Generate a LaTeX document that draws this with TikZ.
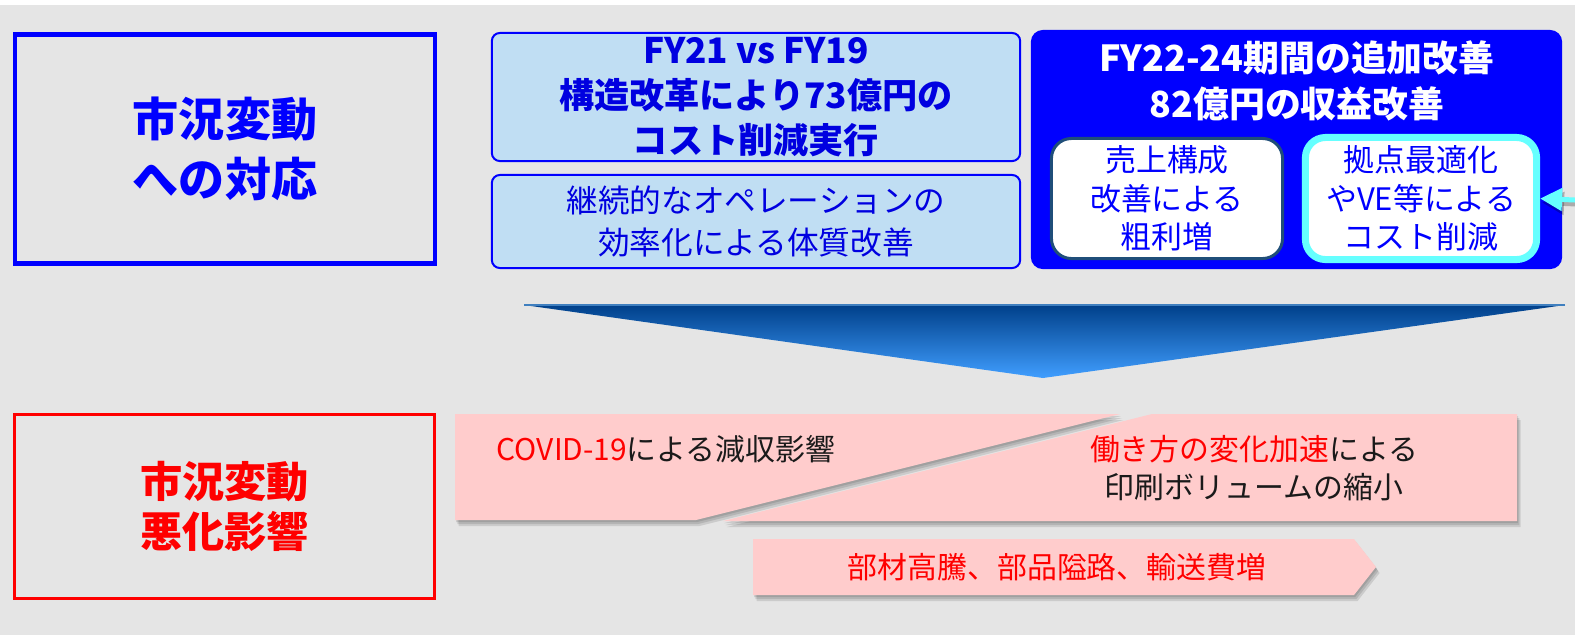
\documentclass[tikz,border=0pt]{standalone}
\usepackage{fontspec}
\setmainfont{Noto Sans CJK JP}
\usetikzlibrary{arrows.meta}
\definecolor{bgray}{HTML}{E5E5E5}
\definecolor{pblue}{HTML}{0000FF}
\definecolor{tblue}{HTML}{0000E0}
\definecolor{lblue}{HTML}{C0DEF3}
\definecolor{pred}{HTML}{FF0000}
\definecolor{pink}{HTML}{FFCCCC}
\definecolor{cyanb}{HTML}{66FFFF}
\definecolor{tealb}{HTML}{1F4E79}
\definecolor{chtop}{HTML}{00408A}
\definecolor{chmid}{HTML}{0066D9}
\definecolor{chbot}{HTML}{409EFF}
\definecolor{chline}{HTML}{3F7FBF}
\definecolor{dtext}{HTML}{1A1A1A}
\newcommand{\myfs}[2]{\fontsize{#1}{#2}\selectfont}
\begin{document}
\begin{tikzpicture}[x=0.01cm,y=-0.01cm,
  framebox/.style={draw, rectangle, inner sep=0pt, align=center},
  softbox/.style={draw=pblue, line width=0.02cm, fill=lblue, rounded corners=0.08cm, rectangle, inner sep=0pt, align=center, minimum width=5.28cm},
  whitebox/.style={fill=white, rounded corners=0.2cm, rectangle, inner sep=0pt, align=center, minimum width=2.31cm, text=pblue, font=\myfs{8.8pt}{11pt}},
  shadowc/.style={fill=black, opacity=0.11},
  pinktext/.style={align=center, inner sep=0pt, text=dtext, font=\myfs{8.5pt}{10.8pt}}
]
\useasboundingbox (0,0) rectangle (1575,635);
\fill[white] (0,0) rectangle (1575,635);
\fill[bgray] (0,5) rectangle (1575,635);

% left frames
\node[framebox, draw=pblue, line width=0.045cm, minimum width=4.2cm, minimum height=2.29cm,
  text=pblue, font=\myfs{13.1pt}{17.1pt}\bfseries] (resp) at (225,149) {市況変動\\への対応};
\node[framebox, draw=pred, line width=0.035cm, minimum width=4.196cm, minimum height=1.836cm,
  text=pred, font=\myfs{12pt}{14.2pt}\bfseries] (worse) at (224.5,506.5) {市況変動\\悪化影響};

% light blue boxes
\node[softbox, minimum height=1.28cm, text=tblue, font=\myfs{10pt}{12.8pt}\bfseries] (fy21) at (756,97)
  {FY21 vs FY19\\構造改革により73億円の\\コスト削減実行};
\node[softbox, minimum height=0.93cm, text=tblue, font=\myfs{9pt}{11.7pt}] (ops) at (756,221.5)
  {継続的なオペレーションの\\効率化による体質改善};

% big blue box
\node[fill=pblue, rounded corners=0.12cm, rectangle, inner sep=0pt, minimum width=5.31cm, minimum height=2.39cm] (fy22) at (1296.5,149.5) {};
\node[align=center, inner sep=0pt, text=white, font=\myfs{10.2pt}{12.9pt}\bfseries] (fy22t) at (1297,81)
  {FY22-24期間の追加改善\\82億円の収益改善};
\node[whitebox, draw=tealb, line width=0.03cm, minimum height=1.2cm] (sales) at (1167,198.5)
  {売上構成\\改善による\\粗利増};
\node[whitebox, draw=cyanb, line width=0.07cm, minimum height=1.22cm] (cost) at (1421,198.5)
  {拠点最適化\\やVE等による\\コスト削減};
\coordinate (arrs) at (1575,200);
\draw[black, opacity=0.25, line width=0.05cm, -{Triangle[length=0.22cm,width=0.22cm]}] ([xshift=0.02cm,yshift=-0.04cm]arrs) -- ([xshift=0.02cm,yshift=-0.04cm]cost.east);
\draw[cyanb, line width=0.05cm, -{Triangle[length=0.22cm,width=0.22cm]}] (arrs) -- (cost.east);

% chevron
\shade[top color=chtop, middle color=chmid, bottom color=chbot] (524,305) -- (1565,305) -- (1043,378) -- cycle;
\draw[chline, line width=0.012cm] (524,305) -- (1565,305);

% pink shape B (behind)
\foreach \o in {2,4,6} {\fill[shadowc, shift={(0.6*\o,\o)}] (723,521) -- (1152,414) -- (1517,414) -- (1517,521) -- cycle;}
\fill[pink] (723,521) -- (1152,414) -- (1517,414) -- (1517,521) -- cycle;
% pink shape A
\foreach \o in {2,4,6} {\fill[shadowc, shift={(0.6*\o,\o)}] (455,414) -- (1120,414) -- (696,520) -- (455,520) -- cycle;}
\fill[pink] (455,414) -- (1120,414) -- (696,520) -- (455,520) -- cycle;
% pink arrow C
\foreach \o in {2,4,6} {\fill[shadowc, shift={(0.6*\o,\o)}] (753,539) -- (1354,539) -- (1376,567) -- (1354,595) -- (753,595) -- cycle;}
\fill[pink] (753,539) -- (1354,539) -- (1376,567) -- (1354,595) -- (753,595) -- cycle;

\node[pinktext] (covid) at (666,449) {\textcolor{pred}{COVID-19}による減収影響};
\node[pinktext] (work) at (1254,468) {\textcolor{pred}{働き方の変化加速}による\\印刷ボリュームの縮小};
\node[pinktext, text=pred] (parts) at (1057,567) {部材高騰、部品隘路、輸送費増};
\end{tikzpicture}
\end{document}
